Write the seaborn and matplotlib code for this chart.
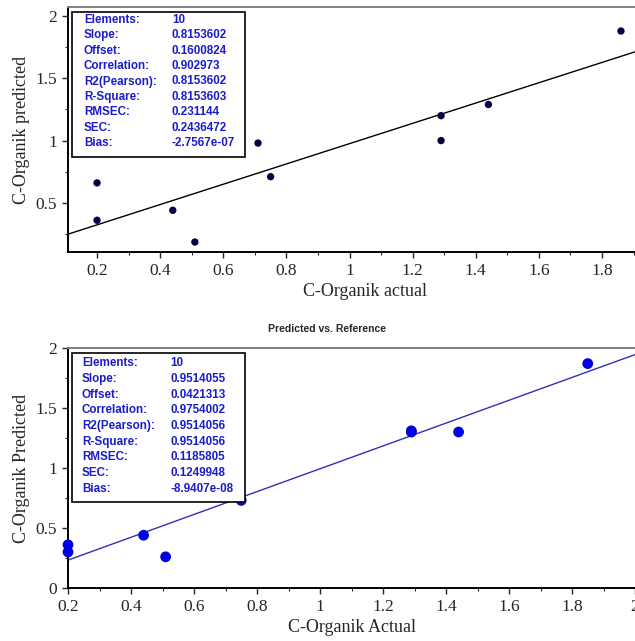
import numpy as np
import pandas as pd
import seaborn as sns
import matplotlib
matplotlib.use("Agg")
import matplotlib.pyplot as plt
from matplotlib.patches import Rectangle
from matplotlib.ticker import MultipleLocator, FuncFormatter

# data
actual_top = [0.20, 0.20, 0.44, 0.51, 0.71, 0.75, 1.29, 1.29, 1.44, 1.86]
pred_top = [0.66, 0.36, 0.44, 0.185, 0.98, 0.71, 1.20, 1.00, 1.29, 1.88]

actual_bot = [0.20, 0.20, 0.44, 0.51, 0.70, 0.75, 1.29, 1.29, 1.44, 1.85]
pred_bot = [0.36, 0.30, 0.44, 0.26, 0.95, 0.73, 1.31, 1.30, 1.30, 1.87]

stat_names = ["Elements:", "Slope:", "Offset:", "Correlation:", "R2(Pearson):",
              "R-Square:", "RMSEC:", "SEC:", "Bias:"]
stats_top = ["10", "0.8153602", "0.1600824", "0.902973", "0.8153602",
             "0.8153603", "0.231144", "0.2436472", "-2.7567e-07"]
stats_bot = ["10", "0.9514055", "0.0421313", "0.9754002", "0.9514056",
             "0.9514056", "0.1185805", "0.1249948", "-8.9407e-08"]

slope_top, offset_top = 0.8153602, 0.1600824
slope_bot, offset_bot = 0.9514055, 0.0421313

W, H = 635, 641
sns.set_style("white")
plt.rcParams["font.family"] = ["Liberation Serif", "DejaVu Serif"]

fig = plt.figure(figsize=(W / 100, H / 100), dpi=100)


def px_box(x0, y0, x1, y1):
    return [x0 / W, 1 - y1 / H, (x1 - x0) / W, (y1 - y0) / H]


ax1 = fig.add_axes(px_box(68, 7, 662, 252))
ax2 = fig.add_axes(px_box(68, 348, 635, 588))

text_blue = "#1c1cc8"


def style_axis(ax, xlim, ylim, xlabel, ylabel):
    ax.set_xlim(*xlim)
    ax.set_ylim(*ylim)
    ax.xaxis.set_major_locator(MultipleLocator(0.2))
    ax.xaxis.set_minor_locator(MultipleLocator(0.1))
    ax.yaxis.set_major_locator(MultipleLocator(0.5))
    ax.yaxis.set_minor_locator(MultipleLocator(0.25))
    fmt = FuncFormatter(lambda v, p: "%g" % round(v, 3))
    ax.xaxis.set_major_formatter(fmt)
    ax.yaxis.set_major_formatter(fmt)
    ax.tick_params(which="major", direction="out", length=4, width=1,
                   labelsize=12.5, pad=4, bottom=True, left=True)
    ax.tick_params(which="minor", direction="out", length=2.5, width=0.8,
                   bottom=True, left=True)
    for s in ["left", "bottom"]:
        ax.spines[s].set_color("black")
        ax.spines[s].set_linewidth(1.4)
    ax.spines["top"].set_color("#808080")
    ax.spines["top"].set_linewidth(1.4)
    ax.spines["right"].set_visible(False)
    ax.set_xlabel(xlabel, fontsize=13, labelpad=3)
    ax.set_ylabel(ylabel, fontsize=13, labelpad=4)


def stat_box(ax, rect, rows, lab_x, val_x, names, values):
    x0, y0, x1, y1 = rect
    r = Rectangle((x0 / W, 1 - y1 / H), (x1 - x0) / W, (y1 - y0) / H,
                  transform=fig.transFigure, facecolor="white",
                  edgecolor="black", linewidth=1.2, zorder=5)
    ax.add_patch(r)
    r.set_clip_on(False)
    ys = np.linspace(rows[0], rows[1], len(names))
    for n, v, yy in zip(names, values, ys):
        for xx, t in [(lab_x, n), (val_x, v)]:
            tt = ax.text(xx / W, 1 - yy / H, t, transform=fig.transFigure,
                         ha="left", va="center", fontsize=8.4,
                         fontweight="bold", color=text_blue,
                         family=["Liberation Sans", "DejaVu Sans"], zorder=6)


# top panel
df_top = pd.DataFrame({"actual": actual_top, "pred": pred_top})
sns.scatterplot(data=df_top, x="actual", y="pred", ax=ax1, color="#000040",
                s=28, edgecolor="none", zorder=3)
xl1 = (0.108, 1.99)
line_x = np.array(xl1)
sns.lineplot(x=line_x, y=slope_top * line_x + offset_top, ax=ax1,
             color="black", linewidth=1.0, zorder=2)
style_axis(ax1, xl1, (0.105, 2.073), "C-Organik actual", "C-Organik predicted")
stat_box(ax1, (72, 12, 245, 157), (20, 143), 84, 172, stat_names, stats_top)

# bottom panel
df_bot = pd.DataFrame({"actual": actual_bot, "pred": pred_bot})
sns.scatterplot(data=df_bot, x="actual", y="pred", ax=ax2, color="#0000e6",
                s=60, edgecolor="none", zorder=3, clip_on=False)
xl2 = (0.2, 2.0)
line_x2 = np.array(xl2)
sns.lineplot(x=line_x2, y=slope_bot * line_x2 + offset_bot, ax=ax2,
             color="#3030b8", linewidth=1.0, zorder=2)
style_axis(ax2, xl2, (0, 2), "C-Organik Actual", "C-Organik Predicted")
stat_box(ax2, (72, 353, 245, 502), (363, 489), 82, 170, stat_names, stats_bot)

fig.text(327 / W, 1 - 329 / H, "Predicted vs. Reference", ha="center",
         va="center", fontsize=7.5, fontweight="bold",
         family=["Liberation Sans", "DejaVu Sans"])

fig.savefig("out.png", dpi=100)
